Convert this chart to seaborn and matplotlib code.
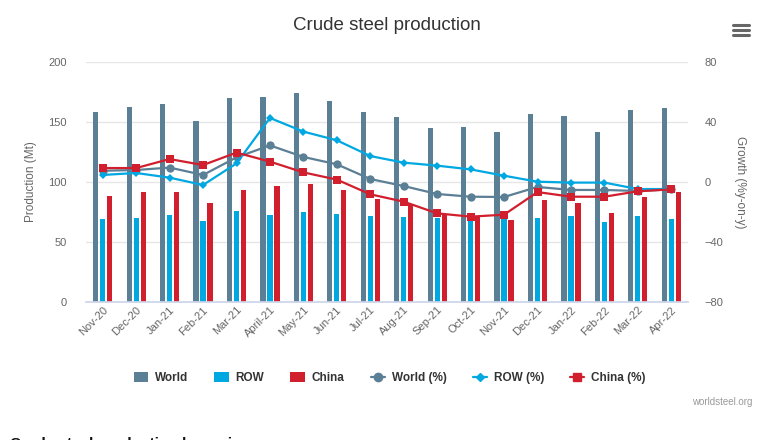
import numpy as np
import pandas as pd
import seaborn as sns
import matplotlib.pyplot as plt
from matplotlib.lines import Line2D
from matplotlib.patches import Patch

months = ["Nov-20", "Dec-20", "Jan-21", "Feb-21", "Mar-21", "April-21", "May-21", "Jun-21",
          "Jul-21", "Aug-21", "Sep-21", "Oct-21", "Nov-21", "Dec-21", "Jan-22", "Feb-22",
          "Mar-22", "Apr-22"]
world = [158.3, 162.5, 165.0, 150.8, 170.0, 170.8, 174.0, 167.5, 158.3, 154.2, 145.0, 145.8,
         141.7, 156.9, 155.0, 141.7, 160.0, 161.7]
row = [69.2, 70.0, 72.8, 67.5, 75.8, 72.8, 75.0, 73.3, 71.7, 70.8, 70.0, 67.5,
       69.0, 70.0, 71.7, 66.7, 71.7, 69.0]
china = [88.3, 91.7, 91.7, 82.5, 93.3, 96.7, 98.3, 93.3, 85.8, 81.7, 73.3, 71.0,
         68.3, 85.0, 82.5, 74.2, 87.5, 91.7]
world_pct = [7.5, 8.0, 9.6, 4.7, 16.4, 24.4, 16.7, 11.8, 2.0, -2.7, -8.0, -9.8,
             -10.0, -3.3, -5.3, -5.3, -6.0, -4.9]
row_pct = [4.7, 6.0, 2.9, -2.0, 12.4, 42.7, 33.6, 27.8, 17.3, 12.9, 10.9, 8.4,
           4.2, 0.2, -0.4, -0.4, -4.7, -4.7]
china_pct = [9.3, 9.3, 15.3, 11.3, 19.6, 13.6, 6.4, 1.6, -8.2, -13.1, -20.9, -23.1,
             -21.8, -6.7, -9.8, -9.8, -6.2, -4.9]

colors = {"World": "#5b7f95", "ROW": "#00a8e1", "China": "#d11f2e"}
W, H = 764, 440

sns.set_theme(style="white")
plt.rcParams["font.family"] = ["Liberation Sans Narrow", "Liberation Sans", "DejaVu Sans"]

n = len(months)
bars = pd.DataFrame({
    "month": months * 3,
    "series": ["World"] * n + ["ROW"] * n + ["China"] * n,
    "value": world + row + china,
})

fig = plt.figure(figsize=(W / 100, H / 100), dpi=100)
ax = fig.add_axes([86 / W, (H - 302) / H, 602 / W, 240 / H])

sns.barplot(data=bars, x="month", y="value", hue="series", palette=colors,
            width=0.63, gap=0.26, saturation=1, linewidth=0, ax=ax, legend=False)
ax.set_ylim(0, 200)
ax.set_xlim(-0.5, n - 0.5)
ax.set_yticks([0, 50, 100, 150, 200])
ax.grid(axis="y", color="#e6e6e6", linewidth=1)
ax.set_axisbelow(True)
for s in ["top", "left", "right"]:
    ax.spines[s].set_visible(False)
ax.spines["bottom"].set_color("#ccd6eb")
ax.tick_params(axis="y", length=0, labelsize=8, labelcolor="#666666", pad=14)
ax.tick_params(axis="x", length=0, labelsize=8, labelcolor="#666666", pad=2)
plt.setp(ax.get_xticklabels(), rotation=45, ha="right", rotation_mode="anchor")
ax.set_xlabel("")
ax.set_ylabel("Production (Mt)", fontsize=8.5, color="#666666", labelpad=8)

ax2 = ax.twinx()
x = np.arange(n)
sns.lineplot(x=x, y=world_pct, color=colors["World"], marker="o", markersize=6,
             markeredgewidth=0, linewidth=1.6, ax=ax2)
sns.lineplot(x=x, y=row_pct, color=colors["ROW"], marker="D", markersize=4.5,
             markeredgewidth=0, linewidth=1.6, ax=ax2)
sns.lineplot(x=x, y=china_pct, color=colors["China"], marker="s", markersize=6,
             markeredgewidth=0, linewidth=1.6, ax=ax2)
ax2.set_ylim(-80, 80)
ax2.set_yticks([-80, -40, 0, 40, 80])
for s in ["top", "left", "right", "bottom"]:
    ax2.spines[s].set_visible(False)
ax2.tick_params(axis="y", length=0, labelsize=8, labelcolor="#666666", pad=12)
ax2.set_ylabel("Growth (%y-on-y)", fontsize=8.5, color="#666666", rotation=270,
               labelpad=16)

fig.text(387 / W, 1 - 25 / H, "Crude steel production", ha="center", va="center",
         fontsize=13.5, color="#333333")

# menu icon
for yy in [25, 30, 35]:
    fig.add_artist(Line2D([733 / W, 749 / W], [1 - yy / H, 1 - yy / H],
                          color="#666666", linewidth=2.2))

handles = [
    Patch(facecolor=colors["World"], edgecolor="none", label="World"),
    Patch(facecolor=colors["ROW"], edgecolor="none", label="ROW"),
    Patch(facecolor=colors["China"], edgecolor="none", label="China"),
    Line2D([], [], color=colors["World"], marker="o", markersize=6, lw=1.6, label="World (%)"),
    Line2D([], [], color=colors["ROW"], marker="D", markersize=4.5, lw=1.6, label="ROW (%)"),
    Line2D([], [], color=colors["China"], marker="s", markersize=6, lw=1.6, label="China (%)"),
]
leg = fig.legend(handles=handles, loc="center", bbox_to_anchor=(390 / W, 1 - 378 / H),
                 ncol=6, frameon=False, fontsize=8.5, handlelength=1.2,
                 handleheight=1.0, columnspacing=2.2, handletextpad=0.6)
for t in leg.get_texts():
    t.set_fontweight("bold")
    t.set_color("#333333")

fig.text(752 / W, 1 - 402 / H, "worldsteel.org", ha="right", va="center",
         fontsize=7, color="#999999")
# heading of the next section, cut by the bottom edge as in the source
fig.text(10 / W, 1 - 437 / H, "Crude steel production by region", ha="left", va="top",
         fontsize=11, fontweight="bold", color="#111111")

fig.savefig("out.png", dpi=100, facecolor="white")
